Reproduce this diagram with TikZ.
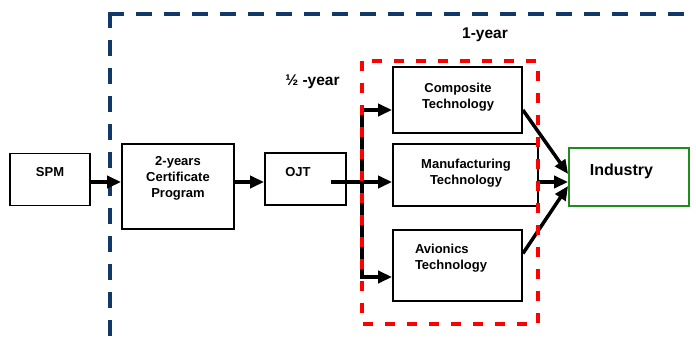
\documentclass[tikz,border=0pt]{standalone}
\usepackage{fontspec}
\setmainfont{Liberation Sans}
\usepackage{tikz}
\usetikzlibrary{arrows.meta}
\usetikzlibrary{positioning,calc}
\usepackage{xcolor}
\definecolor{navy}{RGB}{16,56,104}
\definecolor{dashred}{RGB}{255,0,0}
\definecolor{boxgreen}{RGB}{30,140,30}
\tikzset{
    box/.style={
        draw,
        rectangle,
        fill=white,
        line width=1.8pt,
        inner sep=0pt
    },
    txt/.style={
        align=center,
        inner sep=0pt,
        font=\fontsize{13}{16}\selectfont\bfseries
    },
    flow/.style={
        draw,
        line width=3.5pt
    },
    arr/.style={
        flow,
        -{Triangle[length=14pt, width=12pt]}
    }
}

\begin{document}
\begin{tikzpicture}[x=1pt,y=-1pt]
  \useasboundingbox (0,0) rectangle (696,339);

  % Dashed frame for the 1-year part
  \draw[navy, line width=4pt, dash pattern=on 16pt off 12pt] (110,12) -- (110,339);
  \draw[navy, line width=4pt, dash pattern=on 16pt off 12pt] (108,14) -- (696,14);
  \node[txt, font=\fontsize{15.5}{18}\selectfont\bfseries] (oneyear) at (485,34.5) {1-year};
  \node[txt, font=\fontsize{15.5}{18}\selectfont\bfseries] (halfyear) at (312.5,82) {½ -year};

  % Boxes
  \node[box, minimum width=80pt, minimum height=52pt] (spm) at (50,179.5) {};
  \node[box, minimum width=112pt, minimum height=85pt] (cert) at (178,186.5) {};
  \node[box, minimum width=81pt, minimum height=52pt] (ojt) at (305.5,179) {};
  \node[box, minimum width=129pt, minimum height=66pt] (comp) at (457.5,100) {};
  \node[box, minimum width=145pt, minimum height=62pt] (manu) at (465.5,175) {};
  \node[box, minimum width=129pt, minimum height=71pt] (avio) at (457.5,265.5) {};
  \node[box, draw=boxgreen, minimum width=120pt, minimum height=58pt] (ind) at (629,177) {};

  % Box texts
  \node[txt] (spmtxt) at (50,172.5) {SPM};
  \node[txt] (certtxt) at (178,178.5) {2-years\\Certificate\\Program};
  \node[txt] (ojttxt) at (298,172.5) {OJT};
  \node[txt] (comptxt) at (458,97) {Composite\\Technology};
  \node[txt] (manutxt) at (466,173) {Manufacturing\\Technology};
  \node[txt, align=left] (aviotxt) at (451,258) {Avionics\\Technology};
  \node[txt, font=\fontsize{16}{19}\selectfont\bfseries] (indtxt) at (621.5,171) {Industry};

  % Connectors
  \coordinate (mainline) at (0,182);
  \coordinate (split) at (362,182);
  \coordinate (ctop) at (362,110);
  \coordinate (cbot) at (362,277);
  \draw[arr] (spm.east |- mainline) -- (cert.west |- mainline);
  \draw[arr] (cert.east |- mainline) -- (ojt.west |- mainline);
  \draw[flow] ([xshift=-16pt]ojt.east |- mainline) -- (split);
  \draw[flow] ([yshift=1.75pt]ctop) -- ([yshift=-1.75pt]cbot);
  \draw[arr] (ctop) -- (comp.west |- ctop);
  \draw[arr] (split) -- (manu.west |- split);
  \draw[arr] (cbot) -- (avio.west |- cbot);
  \draw[arr] (comp.east |- ctop) -- ([yshift=3pt]ind.west);
  \draw[arr] (manu.east |- mainline) -- ([yshift=-5pt]ind.west);
  \draw[arr] ([yshift=12pt]avio.east) -- ([yshift=-9pt]ind.west);

  % Dashed frame for the half-year options
  \draw[dashred, line width=4pt, dash pattern=on 10pt off 12pt] (362,61) rectangle (538,324);
\end{tikzpicture}
\end{document}
